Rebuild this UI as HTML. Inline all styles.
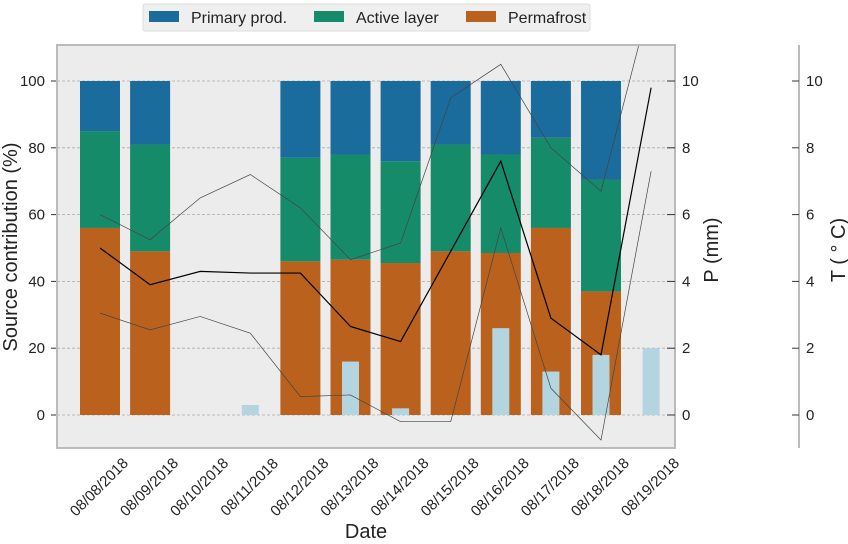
<!DOCTYPE html>
<html><head><meta charset="utf-8"><style>
body{margin:0;background:#fff;}
svg{display:block;font-family:"Liberation Sans",sans-serif;}
</style></head><body>
<svg id="c" width="848" height="544" xmlns="http://www.w3.org/2000/svg"></svg>
<script>
const dates=["08/08/2018","08/09/2018","08/10/2018","08/11/2018","08/12/2018","08/13/2018","08/14/2018","08/15/2018","08/16/2018","08/17/2018","08/18/2018","08/19/2018"];
const permafrost=[56,49,null,null,46,46.5,45.5,49,48.5,56,37,null];
const activeLayer=[29,32,null,null,31,31.5,30.5,32,29.5,27,33.5,null];
const primaryProd=[15,19,null,null,23,22,24,19,22,17,29.5,null];
const precip=[0,0,0,0.3,0,1.6,0.2,0,2.6,1.3,1.8,2.0];
const tMean=[5.0,3.9,4.3,4.25,4.25,2.65,2.2,4.9,7.6,2.9,1.8,9.8];
const tMax=[6.0,5.25,6.5,7.2,6.2,4.65,5.15,9.5,10.5,8.0,6.7,12.5];
const tMin=[3.05,2.55,2.95,2.45,0.55,0.6,-0.2,-0.2,5.6,0.8,-0.75,7.3];
const yTicks=[0,20,40,60,80,100];
const rTicks=[0,2,4,6,8,10];

const NS="http://www.w3.org/2000/svg";
const svg=document.getElementById('c');
function el(tag,attrs,parent){const e=document.createElementNS(NS,tag);for(const k in attrs)e.setAttribute(k,attrs[k]);(parent||svg).appendChild(e);return e;}
const X0=57,X1=675,Y0=45,Y1=448;
const xPos=i=>100+i*50.1;
const yPct=v=>415-v*3.34;
const yP=v=>415-v*33.4;
const yT=v=>415-v*33.4;

const bg=el('rect',{x:X0,y:Y0,width:X1-X0,height:Y1-Y0,fill:'#ececec',stroke:'none'});


const defs=el('defs',{});
const cp=el('clipPath',{id:'clip'},defs);
el('rect',{x:X0,y:Y0,width:X1-X0,height:Y1-Y0},cp);

yTicks.forEach(t=>{
  const g=el('line',{x1:X0,x2:X1,y1:yPct(t),y2:yPct(t),stroke:'#aaa','stroke-width':0.8,'stroke-dasharray':'3,2'});
  
  
});

const bw=40;
dates.forEach((d,i)=>{
  if(permafrost[i]==null)return;
  const x=xPos(i)-bw/2;
  const p=permafrost[i],a=activeLayer[i],q=primaryProd[i];
  const r1=el('rect',{x:x,y:yPct(p),width:bw,height:yPct(0)-yPct(p),fill:'#b9611d'});
  
  
  const r2=el('rect',{x:x,y:yPct(p+a),width:bw,height:yPct(p)-yPct(p+a),fill:'#168b6a'});
  
  
  const r3=el('rect',{x:x,y:yPct(p+a+q),width:bw,height:yPct(p+a)-yPct(p+a+q),fill:'#1a6c9c'});
  
  
});
dates.forEach((d,i)=>{
  if(!precip[i])return;
  const r=el('rect',{x:xPos(i)-8.5,y:yP(precip[i]),width:17,height:yP(0)-yP(precip[i]),fill:'#b3d5e0'});
  
  
});
function line(arr,w,col,name){
  const pts=arr.map((v,i)=>xPos(i)+','+yT(v)).join(' ');
  const l=el('polyline',{points:pts,fill:'none',stroke:col,'stroke-width':w,'clip-path':'url(#clip)'});
  
  
}
line(tMax,0.7,'#444','line-temp-max');
line(tMin,0.7,'#444','line-temp-min');
line(tMean,1.2,'#000','line-temp-mean');

const fr=el('rect',{x:X0,y:Y0,width:X1-X0,height:Y1-Y0,fill:'none',stroke:'#bbb','stroke-width':2});



yTicks.forEach(t=>{
  el('line',{x1:X0-6,x2:X0-1,y1:yPct(t),y2:yPct(t),stroke:'#333','stroke-width':1});
  const tx=el('text',{x:X0-12,y:yPct(t)+5,'text-anchor':'end','font-size':15,fill:'#222'});
  tx.textContent=t;
  
  
});
rTicks.forEach(t=>{
  el('line',{x1:X1-8,x2:X1,y1:yP(t),y2:yP(t),stroke:'#333','stroke-width':1});
  const tx=el('text',{x:X1+7,y:yP(t)+5,'font-size':15,fill:'#222'});
  tx.textContent=t;
  
  
});
el('line',{x1:799,x2:799,y1:Y0,y2:Y1,stroke:'#bbb','stroke-width':2});
rTicks.forEach(t=>{
  el('line',{x1:792,x2:799,y1:yT(t),y2:yT(t),stroke:'#333','stroke-width':1});
  const tx=el('text',{x:806,y:yT(t)+5,'font-size':15,fill:'#222'});
  tx.textContent=t;
  
  
});
dates.forEach((d,i)=>{
  const cx=xPos(i)-1,cy=487;
  const tx=el('text',{x:cx,y:cy+5,'text-anchor':'middle','font-size':15,fill:'#222',transform:`rotate(-45 ${cx} ${cy})`});
  tx.textContent=d;
  
  
});
let t;
t=el('text',{x:366,y:538,'text-anchor':'middle','font-size':20,fill:'#222'});t.textContent='Date';

t=el('text',{x:17,y:247,'text-anchor':'middle','font-size':20,fill:'#222',transform:'rotate(-90 17 247)'});t.textContent='Source contribution (%)';

t=el('text',{x:718,y:250,'text-anchor':'middle','font-size':20,fill:'#222',transform:'rotate(-90 718 250)'});t.textContent='P (mm)';

t=el('text',{x:845,y:250,'text-anchor':'middle','font-size':20,fill:'#222',transform:'rotate(-90 845 250)'});t.textContent='T ( ° C)';


const lg=el('g',{});


el('rect',{x:143,y:4,width:447,height:27,rx:2,fill:'#efefef',stroke:'#ddd'},lg);
const items=[['Primary prod.','#1a6c9c',149],['Active layer','#168b6a',314],['Permafrost','#b9611d',466]];
items.forEach(([lab,col,x])=>{
  const g=el('g',{},lg);
  
  
  el('rect',{x:x,y:11,width:30,height:11,fill:col},g);
  const tt=el('text',{x:x+42,y:23,'font-size':16,fill:'#222'},g);tt.textContent=lab;
});
</script>
</body></html>
